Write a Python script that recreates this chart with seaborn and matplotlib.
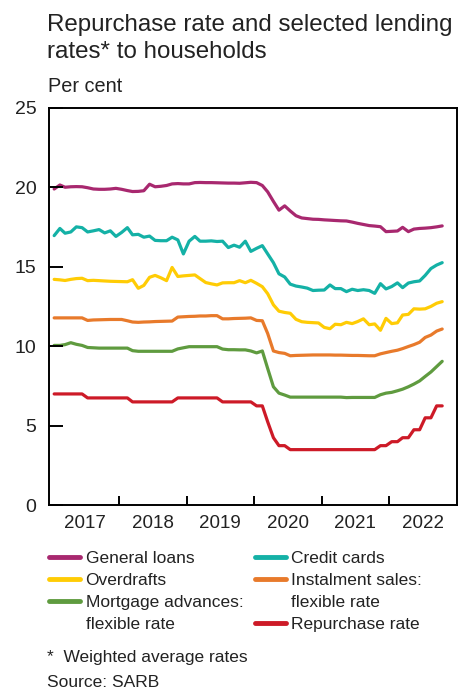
import pandas as pd
import seaborn as sns
import matplotlib.pyplot as plt
from matplotlib.lines import Line2D

# monthly rates, Jan 2017 - Oct 2022 (per cent)
general_loans = [19.88, 20.13, 19.99, 20.02, 20.03, 20.02, 19.96, 19.88, 19.86, 19.86,
                 19.88, 19.92, 19.86, 19.78, 19.72, 19.73, 19.77, 20.18, 20.02, 20.05,
                 20.10, 20.20, 20.22, 20.20, 20.20, 20.28, 20.29, 20.28, 20.28, 20.27,
                 20.26, 20.25, 20.25, 20.24, 20.27, 20.30, 20.28, 20.10, 19.70, 19.10,
                 18.55, 18.82, 18.50, 18.20, 18.06, 18.02, 17.98, 17.97, 17.94, 17.92,
                 17.90, 17.88, 17.87, 17.80, 17.72, 17.65, 17.58, 17.55, 17.51, 17.20,
                 17.22, 17.24, 17.47, 17.20, 17.36, 17.40, 17.42, 17.45, 17.50, 17.56]
credit_cards = [16.95, 17.40, 17.10, 17.18, 17.50, 17.45, 17.18, 17.25, 17.33, 17.12,
                17.25, 16.90, 17.15, 17.45, 17.00, 17.03, 16.85, 16.92, 16.65, 16.63,
                16.63, 16.85, 16.68, 15.80, 16.60, 16.90, 16.60, 16.60, 16.62, 16.58,
                16.60, 16.20, 16.35, 16.22, 16.60, 15.96, 16.15, 16.32, 15.80, 15.25,
                14.55, 14.35, 13.90, 13.78, 13.72, 13.65, 13.50, 13.52, 13.53, 13.85,
                13.62, 13.62, 13.43, 13.58, 13.50, 13.55, 13.50, 13.32, 13.93, 13.60,
                13.75, 13.98, 13.68, 13.97, 14.05, 14.10, 14.45, 14.88, 15.10, 15.25]
overdrafts = [14.20, 14.17, 14.13, 14.20, 14.25, 14.27, 14.12, 14.14, 14.12, 14.10,
              14.08, 14.07, 14.06, 14.05, 14.18, 13.64, 13.82, 14.33, 14.45, 14.30,
              14.12, 14.95, 14.38, 14.42, 14.45, 14.48, 14.25, 14.00, 13.92, 13.85,
              13.98, 13.99, 13.99, 14.12, 13.99, 14.14, 13.95, 13.74, 13.30, 12.60,
              12.20, 12.12, 12.07, 11.69, 11.54, 11.50, 11.48, 11.46, 11.18, 11.10,
              11.38, 11.35, 11.50, 11.42, 11.55, 11.72, 11.35, 11.40, 11.00, 11.75,
              11.42, 11.47, 11.96, 12.00, 12.35, 12.33, 12.35, 12.50, 12.70, 12.80]
instalment_sales = [11.78, 11.78, 11.78, 11.78, 11.78, 11.78, 11.62, 11.65, 11.66, 11.67,
                    11.68, 11.68, 11.68, 11.60, 11.52, 11.50, 11.52, 11.53, 11.55, 11.56,
                    11.57, 11.58, 11.83, 11.85, 11.87, 11.88, 11.90, 11.90, 11.92, 11.92,
                    11.72, 11.72, 11.74, 11.75, 11.76, 11.78, 11.62, 11.60, 10.80, 9.70,
                    9.60, 9.55, 9.40, 9.42, 9.43, 9.44, 9.45, 9.45, 9.45, 9.45,
                    9.44, 9.44, 9.43, 9.42, 9.42, 9.41, 9.40, 9.40, 9.52, 9.60,
                    9.68, 9.75, 9.85, 9.98, 10.10, 10.25, 10.55, 10.70, 10.95, 11.08]
mortgage = [10.05, 10.05, 10.10, 10.22, 10.12, 10.05, 9.92, 9.90, 9.88, 9.88,
            9.88, 9.88, 9.88, 9.88, 9.72, 9.68, 9.68, 9.68, 9.68, 9.68,
            9.68, 9.68, 9.83, 9.90, 9.97, 9.97, 9.97, 9.97, 9.97, 9.97,
            9.82, 9.78, 9.78, 9.77, 9.77, 9.70, 9.58, 9.70, 8.60, 7.45,
            7.05, 6.93, 6.80, 6.80, 6.80, 6.80, 6.80, 6.80, 6.80, 6.80,
            6.80, 6.80, 6.77, 6.78, 6.78, 6.78, 6.78, 6.78, 6.95, 7.05,
            7.10, 7.20, 7.30, 7.45, 7.62, 7.82, 8.10, 8.38, 8.72, 9.05]
repo_rate = [7.00] * 6 + [6.75] * 8 + [6.50] * 8 + [6.75] * 8 + [6.50] * 6 + [6.25] * 2 \
    + [5.25, 4.25, 3.75, 3.75] + [3.50] * 16 + [3.75, 3.75, 4.00, 4.00, 4.25, 4.25,
                                               4.75, 4.75, 5.50, 5.50, 6.25, 6.25]

series_names = ['General loans', 'Overdrafts', 'Mortgage advances: flexible rate',
                'Credit cards', 'Instalment sales: flexible rate', 'Repurchase rate']
series_values = [general_loans, overdrafts, mortgage, credit_cards, instalment_sales, repo_rate]
colours = ['#a8286f', '#ffcc05', '#5f9b3f', '#14b1a6', '#e87a2b', '#cd1a27']
year_labels = ['2017', '2018', '2019', '2020', '2021', '2022']

months = pd.date_range('2017-01-01', periods=70, freq='MS') + pd.Timedelta(days=14)
frames = []
for name, vals in zip(series_names, series_values):
    frames.append(pd.DataFrame({'date': months, 'rate': vals, 'series': name}))
df = pd.concat(frames, ignore_index=True)

sns.set_style('ticks', {'axes.axisbelow': False})
plt.rcParams['font.family'] = ['Liberation Sans', 'DejaVu Sans']
# inward tick marks, as in the SARB house style
plt.rcParams.update({
    'xtick.direction': 'in', 'ytick.direction': 'in',
    'xtick.bottom': True, 'ytick.left': True,
    'xtick.major.size': 6.5, 'ytick.major.size': 10,
    'xtick.major.width': 1.4, 'ytick.major.width': 1.4,
    'xtick.color': 'black', 'ytick.color': 'black',
})

fig = plt.figure(figsize=(4.63, 6.91), dpi=100)
ax = fig.add_axes([0.1058, 0.2687, 0.8812, 0.5757])

palette = dict(zip(series_names, colours))
sns.lineplot(data=df, x='date', y='rate', hue='series', palette=palette,
             linewidth=2.3, ax=ax, legend=False)

ax.set_xlim(pd.Timestamp('2016-12-18'), pd.Timestamp('2023-01-03'))
ax.set_ylim(0, 25)
ax.set_yticks([0, 5, 10, 15, 20, 25])
ax.set_xlabel('')
ax.set_ylabel('')

# year boundaries get tick marks, labels sit mid-year
ax.set_xticks([pd.Timestamp(f'{y}-01-01') for y in range(2018, 2023)])
ax.set_xticklabels([])
ax.set_xticks([pd.Timestamp(f'{y}-07-02') for y in year_labels], minor=True)
ax.set_xticklabels(year_labels, minor=True)
ax.tick_params(axis='x', which='minor', length=0, labelsize=13.5, pad=7,
               labelcolor='#222222')
ax.tick_params(axis='y', labelsize=14, pad=9, labelcolor='#222222')
for s in ax.spines.values():
    s.set_color('black')
    s.set_linewidth(1.4)

fig.text(0.1015, 0.980, 'Repurchase rate and selected lending\nrates* to households',
         fontsize=17.4, va='top', ha='left', linespacing=1.28, color='#222222')
fig.text(0.104, 0.889, 'Per cent', fontsize=14.3, va='top', ha='left', color='#222222')

# legend: two-line labels split so the key line sits on the first line
leg_labels = ['General loans', 'Overdrafts', 'Mortgage advances:', 'flexible rate',
              'Credit cards', 'Instalment sales:', 'flexible rate', 'Repurchase rate']
leg_colours = [colours[0], colours[1], colours[2], 'none',
               colours[3], colours[4], 'none', colours[5]]
handles = [Line2D([], [], color=c, linewidth=3.5) for c in leg_colours]
leg = fig.legend(handles, leg_labels, ncol=2, loc='upper left',
                 bbox_to_anchor=(0.106, 0.203), frameon=False, fontsize=12.5,
                 handlelength=1.8, handletextpad=0.3, columnspacing=0.65,
                 labelspacing=0.4, borderaxespad=0, borderpad=0)
for t in leg.get_texts():
    t.set_color('#222222')

fig.text(0.1015, 0.048, '*  Weighted average rates', fontsize=12.5, va='center', ha='left',
         color='#222222')
fig.text(0.1015, 0.012, 'Source: SARB', fontsize=12.5, va='center', ha='left',
         color='#222222')

fig.savefig('out.png', dpi=100)
